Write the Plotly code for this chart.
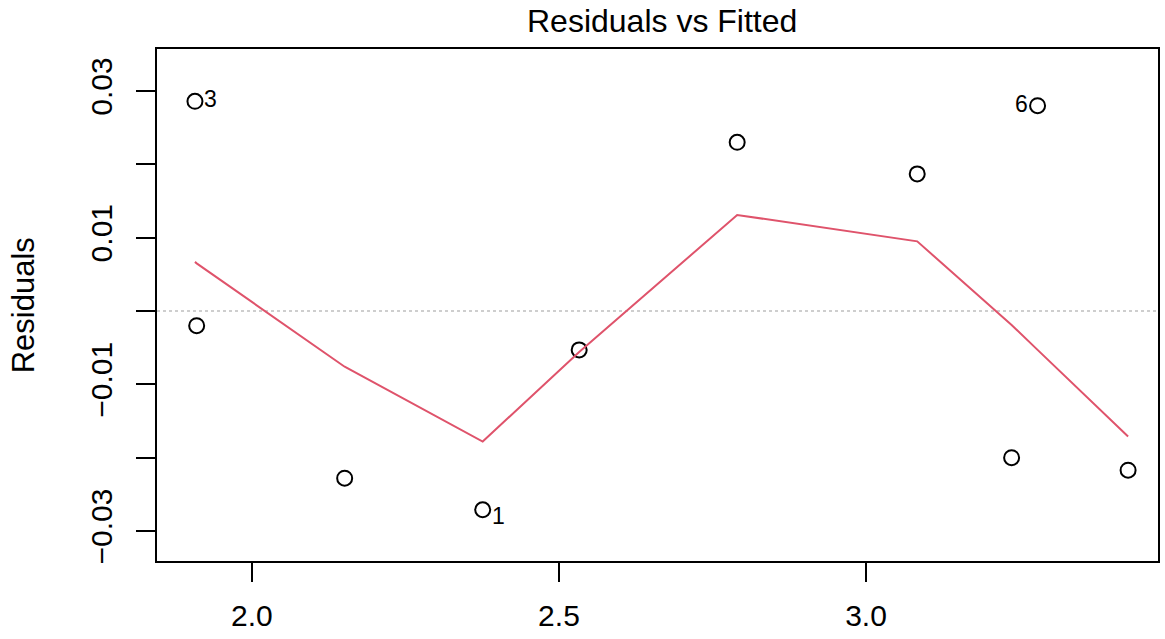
import plotly.graph_objects as go

# Data
fitted = [1.9072, 1.9100, 2.1510, 2.3758, 2.5329, 2.7902, 3.0834, 3.2371, 3.2794, 3.4268]
residuals = [0.0286, -0.0020, -0.0228, -0.0271, -0.0053, 0.0230, 0.0187, -0.0200, 0.0280, -0.0217]
smooth = [0.0067, 0.0065, -0.0076, -0.0178, -0.0056, 0.0131, 0.0095, -0.0019, -0.0053, -0.0171]

id_labels = ["3", "1", "6"]
id_index = [0, 3, 8]

x_ticks = [2.0, 2.5, 3.0]
x_ticktext = ["2.0", "2.5", "3.0"]
y_ticks = [-0.03, -0.02, -0.01, 0.0, 0.01, 0.02, 0.03]
y_ticktext = ["\u22120.03", "", "\u22120.01", "", "0.01", "", "0.03"]

FONT = "Liberation Sans, Arial, Helvetica, sans-serif"

fig = go.Figure()

# zero reference line
fig.add_shape(type="line", xref="paper", x0=0, x1=1, yref="y", y0=0, y1=0,
              line=dict(color="#BEBEBE", width=1.5, dash="dot"), layer="below")

fig.add_trace(go.Scatter(
    x=fitted, y=residuals, mode="markers",
    marker=dict(symbol="circle-open", size=15, color="black", line=dict(width=2, color="black")),
    showlegend=False, hoverinfo="x+y"))

fig.add_trace(go.Scatter(
    x=fitted, y=smooth, mode="lines",
    line=dict(color="#DF536B", width=2),
    showlegend=False, hoverinfo="skip"))

label_shift = {"3": (16, 2, "center"), "1": (16, -6, "center"), "6": (-16, 2, "center")}
for lab, i in zip(id_labels, id_index):
    dx, dy, anc = label_shift[lab]
    fig.add_annotation(x=fitted[i], y=residuals[i], text=lab, showarrow=False,
                       xshift=dx, yshift=dy, xanchor=anc, yanchor="middle",
                       font=dict(family=FONT, size=23, color="black"))

# title
fig.add_annotation(text="Residuals vs Fitted", xref="paper", yref="paper",
                   x=0.5045, y=1, yanchor="bottom", yshift=8, showarrow=False,
                   font=dict(family=FONT, size=32, color="black"))
# y label
fig.add_annotation(text="Residuals", xref="paper", yref="paper",
                   x=(23 - 157) / 1003, y=0.5, xanchor="center", yanchor="middle",
                   textangle=-90, showarrow=False,
                   font=dict(family=FONT, size=31, color="black"))

fig.update_layout(
    width=1165, height=639,
    margin=dict(l=157, r=5, t=49, b=78),
    paper_bgcolor="white", plot_bgcolor="white",
    font=dict(family=FONT, size=30, color="black"),
    showlegend=False,
)
fig.update_xaxes(range=[1.8454, 3.4755], tickvals=x_ticks, ticktext=x_ticktext,
                 showgrid=False, zeroline=False, showline=True, mirror=True,
                 linecolor="black", linewidth=2, ticks="outside", ticklen=19,
                 tickwidth=1.5, tickcolor="black", ticklabelstandoff=8,
                 tickfont=dict(family=FONT, size=30, color="black"))
fig.update_yaxes(range=[-0.03409, 0.03573], tickvals=y_ticks, ticktext=y_ticktext,
                 showgrid=False, zeroline=False, showline=True, mirror=True,
                 linecolor="black", linewidth=2, ticks="outside", ticklen=19,
                 tickwidth=1.5, tickcolor="black", tickangle=-90, ticklabelstandoff=12,
                 tickfont=dict(family=FONT, size=30, color="black"))

fig.write_html("out.html")
